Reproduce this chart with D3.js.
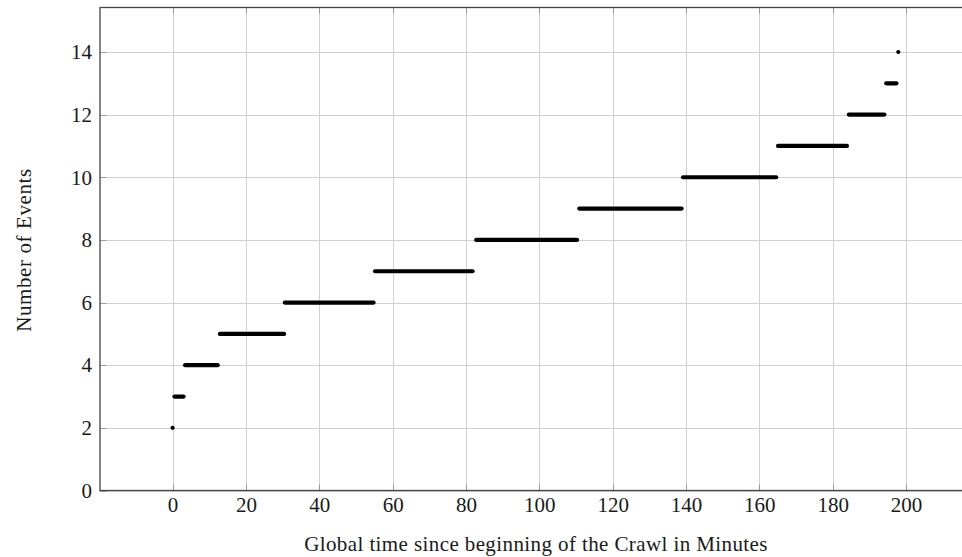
<!DOCTYPE html>
<html>
<head>
<meta charset="utf-8">
<script src="https://cdn.jsdelivr.net/npm/d3@7"></script>
<style>
  body { margin: 0; background: #fff; overflow: hidden; }
  svg text { font-family: "Liberation Serif", serif; fill: #1a1a1a; }
</style>
</head>
<body>
<svg id="chart" width="962" height="557"></svg>
<script>
// step levels (number of events) and the time span each one lasted, in minutes
var levels = [2, 3, 4, 5, 6, 7, 8, 9, 10, 11, 12, 13, 14];
var spanStart = [0, 0.5, 3.4, 12.9, 30.6, 55.2, 82.8, 110.9, 139.2, 165.1, 184.4, 194.6, 197.9];
var spanEnd   = [0, 3.0, 12.3, 30.4, 54.8, 81.8, 110.3, 138.8, 164.6, 183.9, 194.1, 197.4, 197.9];

var xTicks = [0, 20, 40, 60, 80, 100, 120, 140, 160, 180, 200];
var yTicks = [0, 2, 4, 6, 8, 10, 12, 14];

var svg = d3.select('#chart');
var pLeft = 100, pRight = 980, pTop = 7.5, pBottom = 490.5;

var x = d3.scaleLinear().domain([-19.8, 220]).range([pLeft, pLeft + 239.8 * 3.667]);
var y = d3.scaleLinear().domain([0, 15.42]).range([pBottom, pTop]);

// grid
svg.append('g').selectAll('line').data(xTicks).enter().append('line')
  .attr('x1', function(d) { return Math.round(x(d)) + 0.5; })
  .attr('x2', function(d) { return Math.round(x(d)) + 0.5; })
  .attr('y1', pTop).attr('y2', pBottom)
  .attr('stroke', '#d0d0d0').attr('stroke-width', 1);
svg.append('g').selectAll('line').data(yTicks).enter().append('line')
  .attr('y1', function(d) { return Math.round(y(d)) + 0.5; })
  .attr('y2', function(d) { return Math.round(y(d)) + 0.5; })
  .attr('x1', pLeft).attr('x2', pRight)
  .attr('stroke', '#d0d0d0').attr('stroke-width', 1);

// axes, labels only (pgfplots style inner ticks drawn below)
var xAxis = d3.axisBottom(x).tickValues(xTicks).tickSize(0).tickPadding(7);
var gx = svg.append('g').attr('transform', 'translate(0,' + pBottom + ')').call(xAxis);
gx.select('.domain').remove();
gx.selectAll('text').attr('font-size', 21).attr('font-family', '"Liberation Serif", serif').attr('fill', '#1a1a1a');

var yAxis = d3.axisLeft(y).tickValues(yTicks).tickSize(0).tickPadding(8);
var gy = svg.append('g').attr('transform', 'translate(' + pLeft + ',0)').call(yAxis);
gy.select('.domain').remove();
gy.selectAll('text').attr('font-size', 21).attr('font-family', '"Liberation Serif", serif').attr('fill', '#1a1a1a');

var tickLen = 6;
var ticks = svg.append('g').attr('stroke', '#999').attr('stroke-width', 1);
xTicks.forEach(function(d) {
  var px = Math.round(x(d)) + 0.5;
  ticks.append('line').attr('x1', px).attr('x2', px).attr('y1', pBottom).attr('y2', pBottom - tickLen);
  ticks.append('line').attr('x1', px).attr('x2', px).attr('y1', pTop).attr('y2', pTop + tickLen);
});
yTicks.forEach(function(d) {
  var py = Math.round(y(d)) + 0.5;
  ticks.append('line').attr('y1', py).attr('y2', py).attr('x1', pLeft).attr('x2', pLeft + tickLen);
});

// frame
svg.append('rect')
  .attr('x', pLeft).attr('y', pTop)
  .attr('width', pRight - pLeft).attr('height', pBottom - pTop)
  .attr('fill', 'none').attr('stroke', '#444').attr('stroke-width', 1.3);

// steps
var steps = levels.map(function(v, i) { return { v: v, a: spanStart[i], b: spanEnd[i] }; });
svg.append('g').selectAll('line').data(steps).enter().append('line')
  .attr('x1', function(d) { return x(d.a); })
  .attr('x2', function(d) { return x(d.b); })
  .attr('y1', function(d) { return y(d.v); })
  .attr('y2', function(d) { return y(d.v); })
  .attr('stroke', '#000').attr('stroke-width', 4.2).attr('stroke-linecap', 'round');

// axis titles
svg.append('text')
  .attr('x', 536).attr('y', 551)
  .attr('text-anchor', 'middle').attr('font-size', 21).attr('letter-spacing', 0.4)
  .text('Global time since beginning of the Crawl in Minutes');
svg.append('text')
  .attr('transform', 'translate(31,250) rotate(-90)')
  .attr('text-anchor', 'middle').attr('font-size', 21).attr('letter-spacing', 0.6)
  .text('Number of Events');
</script>
</body>
</html>
